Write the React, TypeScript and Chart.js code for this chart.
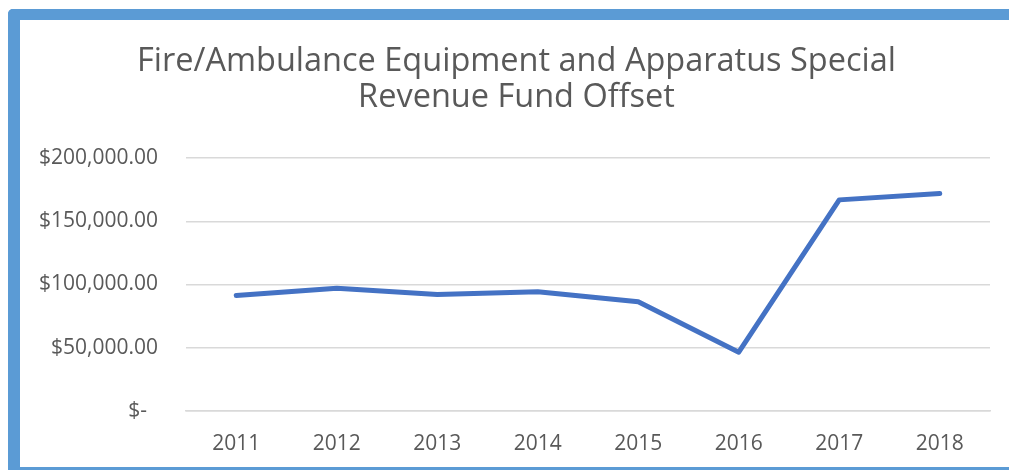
import React, { useEffect, useRef } from "react";
import { Chart, registerables } from "chart.js";

Chart.register(...registerables);

const titleLines = ["Fire/Ambulance Equipment and Apparatus Special", "Revenue Fund Offset"];
const categories = ["2011", "2012", "2013", "2014", "2015", "2016", "2017", "2018"];
const offsetValues = [91300, 97000, 92000, 94200, 86300, 46500, 166900, 172000];
const yTickValues = [0, 50000, 100000, 150000, 200000];
const yTickLabels = ["$-  ", "$50,000.00", "$100,000.00", "$150,000.00", "$200,000.00"];

export default function App() {
  const ref = useRef<HTMLCanvasElement>(null);

  useEffect(() => {
    if (!ref.current) return;
    const textColor = "#595959";
    const chart = new Chart(ref.current, {
      type: "line",
      data: {
        labels: categories,
        datasets: [
          {
            label: "Offset",
            data: offsetValues,
            borderColor: "#4472C4",
            backgroundColor: "#4472C4",
            borderWidth: 5,
            borderCapStyle: "round",
            borderJoinStyle: "round",
            pointRadius: 0,
            tension: 0,
            yAxisID: "y",
          },
        ],
      },
      options: {
        responsive: false,
        animation: false,
        layout: { padding: 0 },
        plugins: {
          legend: { display: false },
          tooltip: { enabled: false },
          title: {
            display: true,
            text: titleLines,
            color: textColor,
            font: { family: "'Open Sans'", size: 32.5, weight: "normal", lineHeight: 36 / 32.5 },
            padding: { top: 24, bottom: 42 },
          },
        },
        scales: {
          x: {
            offset: true,
            grid: { display: false, drawTicks: false },
            border: { display: true, color: "#d9d9d9", width: 1.5 },
            ticks: {
              color: textColor,
              font: { family: "'Open Sans'", size: 21 },
              padding: 20,
              maxRotation: 0,
            },
            afterFit: (s: any) => {
              s.height = 56;
            },
          },
          y: {
            position: "left",
            min: 0,
            max: 200000,
            grid: { color: "#d9d9d9", lineWidth: 1.5, drawTicks: false },
            border: { display: false },
            afterBuildTicks: (s: any) => {
              s.ticks = yTickValues.map((v) => ({ value: v }));
            },
            ticks: {
              color: textColor,
              font: { family: "'Open Sans'", size: 21 },
              padding: 28,
              callback: (v: any) => {
                const i = yTickValues.indexOf(Number(v));
                return i >= 0 ? yTickLabels[i] : "";
              },
            },
            afterFit: (s: any) => {
              s.width = 166;
            },
          },
          yRight: {
            position: "right",
            grid: { display: false, drawTicks: false },
            border: { display: false },
            ticks: { display: false },
            afterFit: (s: any) => {
              s.width = 23;
            },
          },
        },
      },
    });
    return () => chart.destroy();
  }, []);

  return (
    <div
      style={{
        position: "absolute",
        left: 8,
        top: 9,
        width: 989,
        height: 447,
        overflow: "hidden",
        borderLeft: "12px solid #5B9BD5",
        borderTop: "11px solid #5B9BD5",
        borderBottom: "3px solid #5B9BD5",
        borderTopLeftRadius: 5,
        background: "#fff",
      }}
    >
      <canvas ref={ref} width={993} height={447} style={{ display: "block" }} />
    </div>
  );
}
